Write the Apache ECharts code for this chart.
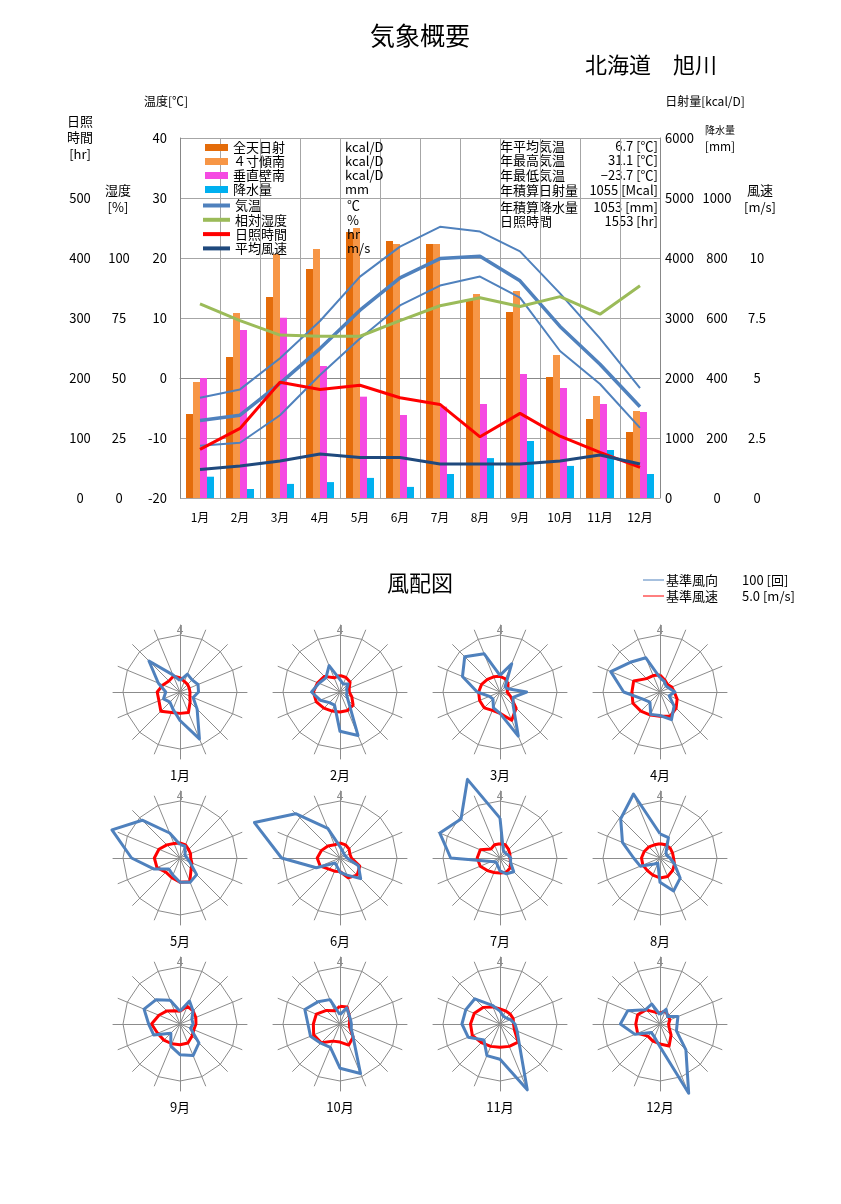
<!DOCTYPE html>
<html><head><meta charset="utf-8">
<script src="https://cdn.jsdelivr.net/npm/echarts@6/dist/echarts.min.js"></script>
<style>html,body{margin:0;padding:0;background:#fff}#c{width:841px;height:1204px}</style>
</head><body><div id="c"></div>
<script>
const FONT = '"Noto Sans CJK JP","Noto Sans",sans-serif';
const months = ['1月','2月','3月','4月','5月','6月','7月','8月','9月','10月','11月','12月'];
const radAll  = [1400,2350,3350,3817,4433,4283,4233,3317,3100,2017,1317,1100];
const radTilt = [1933,3083,4067,4150,4500,4233,4233,3400,3450,2383,1700,1450];
const radWall = [2000,2800,3005,2200,1689,1383,1522,1567,2067,1833,1567,1433];
const precip  = [71,30,47,53,67,37,80,133,190,107,160,80];
const tempMax  = [-3.3,-1.9,3.3,9.5,16.9,21.9,25.2,24.4,21.1,14.1,6.6,-1.7];
const tempMean = [-7.1,-6.2,-0.9,4.9,11.3,16.7,19.9,20.3,16.2,8.6,2.3,-4.8];
const tempMin  = [-11.3,-10.8,-6.2,0.5,6.6,12.1,15.4,16.9,13.4,4.5,-1.0,-8.3];
const humidity = [80.9,73.9,67.9,67.4,67.4,73.9,80.1,83.4,79.8,83.9,76.6,88.4];
const sunshine = [81,116,193,181,188,167,156,102,141,103,76,51];
const windSpeed = [1.19,1.33,1.54,1.83,1.69,1.69,1.42,1.42,1.42,1.54,1.79,1.42];

const statLabels = ['年平均気温','年最高気温','年最低気温','年積算日射量','年積算降水量','日照時間'];
const statValues = ['6.7 [℃]','31.1 [℃]','−23.7 [℃]','1055 [Mcal]','1053 [mm]','1553 [hr]'];

const legendNames = ['全天日射','４寸傾南','垂直壁南','降水量','気温','相対湿度','日照時間','平均風速'];
const legendUnits = ['kcal/D','kcal/D','kcal/D','mm','℃','%','hr','m/s'];

// wind roses: 16 directions, N then clockwise (N,NNE,NE,...,NNW)
const windFreq = [
 [0.8,1.36,1.2,1.37,1.3,1.0,1.7,3.56,2.0,1.3,1.0,1.25,1.0,1.65,3.08,1.3],
 [0.87,0.6,0.8,0.5,0.5,0.5,0.8,3.3,2.76,1.0,1.05,1.5,2.0,1.6,1.4,2.0],
 [1.17,2.15,0.5,0.6,1.87,1.0,1.3,3.35,1.5,1.2,0.7,0.8,1.6,2.85,3.5,2.9],
 [1.0,0.8,0.6,0.7,1.05,0.7,1.4,2.1,1.65,1.7,1.0,1.3,2.55,3.74,2.95,2.6],
 [0.95,0.9,0.5,0.4,0.5,0.75,1.65,1.85,1.7,1.3,1.1,2.0,3.4,5.17,3.75,1.9],
 [0.8,0.5,0.4,0.4,0.5,1.4,2.05,1.3,1.0,0.6,0.5,1.8,4.1,6.5,4.4,2.25],
 [2.8,0.6,0.5,0.6,0.75,0.8,1.36,1.2,0.9,0.5,0.4,0.65,3.46,4.57,3.87,5.97],
 [1.7,1.55,0.6,0.5,0.7,1.1,2.0,2.5,1.7,0.4,0.6,1.5,1.85,2.85,3.9,4.86],
 [0.9,1.74,1.3,0.9,0.92,0.8,1.88,2.4,2.15,1.68,0.91,2.0,2.2,2.73,2.4,1.8],
 [0.65,1.23,0.9,0.8,0.8,0.85,1.3,3.76,3.1,1.77,1.9,2.24,2.25,2.67,2.2,1.85],
 [0.9,0.6,0.6,0.8,1.05,1.3,1.9,5.0,2.47,2.4,1.59,2.42,2.67,2.6,2.5,1.42],
 [0.65,1.12,0.75,1.36,1.2,1.25,2.57,5.26,1.6,1.0,0.85,1.9,2.78,2.45,1.42,1.52]
];
const windSpd = [
 [1.0,0.8,0.75,0.7,0.7,0.75,1.0,1.55,1.5,1.55,1.9,1.6,1.6,1.3,1.1,1.2],
 [1.17,1.1,1.0,0.7,0.65,0.9,1.3,1.4,1.4,1.45,1.6,1.8,1.87,1.7,1.55,1.08],
 [1.1,1.0,0.8,0.6,0.5,0.8,1.6,2.15,1.5,1.4,1.57,1.55,1.5,1.4,1.25,1.15],
 [1.2,0.9,0.75,0.9,1.0,1.3,1.6,1.85,1.7,1.75,1.9,2.06,1.97,2.0,1.33,1.25],
 [1.05,1.0,0.85,0.8,0.75,0.9,1.1,1.8,1.7,1.5,1.4,1.75,1.8,1.6,1.3,1.1],
 [1.05,1.0,0.9,0.75,0.8,1.5,1.7,1.5,0.95,1.0,1.1,1.5,1.6,1.4,1.2,1.0],
 [1.0,1.0,0.85,0.75,0.7,0.8,1.0,1.1,1.05,1.1,1.25,1.5,1.6,1.5,0.9,1.0],
 [1.0,1.0,1.0,0.95,0.95,1.1,1.25,1.4,1.4,1.3,1.25,1.3,1.3,1.2,1.1,1.0],
 [0.9,1.34,1.3,1.2,1.12,1.05,1.2,1.45,1.45,1.5,1.6,1.7,2.0,1.6,1.3,1.0],
 [1.25,1.3,0.9,0.75,0.65,0.75,1.3,1.6,1.27,1.3,1.86,2.0,1.87,1.8,1.35,1.0],
 [1.05,1.0,1.0,1.0,0.95,1.1,1.8,1.7,1.63,1.7,1.85,2.1,2.07,1.95,1.65,1.3],
 [0.77,1.0,0.8,0.75,0.6,0.7,1.1,1.67,1.4,1.3,1.2,1.7,1.7,1.7,1.4,0.9]
];

const C_RAD='#E46C0A', C_TILT='#F79646', C_WALL='#F54AE2', C_PRE='#00B0F0';
const C_TEMP='#4F81BD', C_HUM='#9BBB59', C_SUN='#FF0000', C_WIND='#1F497D';
const GRID='#a6a6a6', AX='#888';

function hideAbove(lim){ return v => (v > lim ? '' : String(v)); }
// radar indicators run counter-clockwise; reorder to clockwise compass
function toRadar(arr){ return arr.map((_, i) => arr[(16 - i) % 16]); }

const yAxes = [
 {type:'value', gridIndex:0, position:'left', min:-20, max:40, interval:10,
  axisLine:{show:true,lineStyle:{color:AX}}, axisTick:{show:false},
  splitLine:{show:true,lineStyle:{color:GRID}},
  axisLabel:{color:'#000',fontSize:13,margin:13}},
 {type:'value', gridIndex:0, position:'left', min:0, max:150, interval:25,
  axisLine:{show:false}, axisTick:{show:false}, splitLine:{show:false},
  axisLabel:{color:'#000',fontSize:13,margin:61,align:'center',formatter:hideAbove(100)}},
 {type:'value', gridIndex:0, position:'left', min:0, max:600, interval:100,
  axisLine:{show:false}, axisTick:{show:false}, splitLine:{show:false},
  axisLabel:{color:'#000',fontSize:13,margin:100,align:'center',formatter:hideAbove(500)}},
 {type:'value', gridIndex:0, position:'right', min:0, max:6000, interval:1000,
  axisLine:{show:true,lineStyle:{color:AX}}, axisTick:{show:false}, splitLine:{show:false},
  axisLabel:{color:'#000',fontSize:13,margin:5,formatter:v=>String(v)}},
 {type:'value', gridIndex:0, position:'right', min:0, max:1200, interval:200,
  axisLine:{show:false}, axisTick:{show:false}, splitLine:{show:false},
  axisLabel:{color:'#000',fontSize:13,margin:57,align:'center',formatter:hideAbove(1000)}},
 {type:'value', gridIndex:0, position:'right', min:0, max:15, interval:2.5,
  axisLine:{show:false}, axisTick:{show:false}, splitLine:{show:false},
  axisLabel:{color:'#000',fontSize:13,margin:97,align:'center',formatter:hideAbove(10)}}
];

const series = [
 {name:'全天日射', type:'bar', yAxisIndex:3, data:radAll, itemStyle:{color:C_RAD}, barGap:'0%', barCategoryGap:'30%'},
 {name:'４寸傾南', type:'bar', yAxisIndex:3, data:radTilt, itemStyle:{color:C_TILT}, barGap:'0%', barCategoryGap:'30%'},
 {name:'垂直壁南', type:'bar', yAxisIndex:3, data:radWall, itemStyle:{color:C_WALL}, barGap:'0%', barCategoryGap:'30%'},
 {name:'降水量', type:'bar', yAxisIndex:4, data:precip, itemStyle:{color:C_PRE}, barGap:'0%', barCategoryGap:'30%'},
 {name:'気温', type:'line', yAxisIndex:0, data:tempMax, symbol:'none', itemStyle:{color:C_TEMP}, lineStyle:{color:C_TEMP,width:2}},
 {name:'気温', type:'line', yAxisIndex:0, data:tempMean, symbol:'none', itemStyle:{color:C_TEMP}, lineStyle:{color:C_TEMP,width:3.5}},
 {name:'気温', type:'line', yAxisIndex:0, data:tempMin, symbol:'none', itemStyle:{color:C_TEMP}, lineStyle:{color:C_TEMP,width:2}},
 {name:'相対湿度', type:'line', yAxisIndex:1, data:humidity, symbol:'none', itemStyle:{color:C_HUM}, lineStyle:{color:C_HUM,width:3}},
 {name:'日照時間', type:'line', yAxisIndex:2, data:sunshine, symbol:'none', itemStyle:{color:C_SUN}, lineStyle:{color:C_SUN,width:3}},
 {name:'平均風速', type:'line', yAxisIndex:5, data:windSpeed, symbol:'none', itemStyle:{color:C_WIND}, lineStyle:{color:C_WIND,width:3}}
];

// wind roses
const centersX = [180,340,500,660];
const centersY = [692,858,1024];
const radars = [];
const graphics = [];
function txt(x,y,text,size,align,extra){
  graphics.push(Object.assign({type:'text', x:x, y:y, silent:true,
    style:{text:text, fill:'#000', fontSize:size, fontFamily:FONT, align:align||'left', verticalAlign:'middle'}}, extra||{}));
}
for (let m=0;m<12;m++){
  const cx = centersX[m%4], cy = centersY[Math.floor(m/4)];
  radars.push({center:[cx,cy], radius:67, shape:'polygon', startAngle:90, splitNumber:1,
    indicator: Array.from({length:16},()=>({name:'',max:1})),
    axisName:{show:false}, splitLine:{show:false}, splitArea:{show:false},
    axisLine:{show:true,lineStyle:{color:'#8c8c8c',width:1}}, axisTick:{show:false}, axisLabel:{show:false}});
  radars.push({center:[cx,cy], radius:57, shape:'polygon', startAngle:90, splitNumber:1, nameGap:0,
    indicator: Array.from({length:16},(_,i)=>({name:i===0?'4':'',max:4})),
    axisName:{show:true,color:'#8c8c8c',fontSize:12,fontFamily:FONT},
    splitLine:{show:true,lineStyle:{color:'#8c8c8c',width:1}}, splitArea:{show:false},
    axisLine:{show:false}, axisTick:{show:false}, axisLabel:{show:false}});
  series.push({type:'radar', radarIndex:m*2+1, symbol:'none', silent:true,
    data:[
      {value:toRadar(windSpd[m]), lineStyle:{color:'#FF0000',width:3}, itemStyle:{color:'#FF0000'}},
      {value:toRadar(windFreq[m]), lineStyle:{color:'#4F81BD',width:3}, itemStyle:{color:'#4F81BD'}}
    ]});
  txt(cx, cy+83, months[m], 13, 'center');
}

// titles and axis names
txt(420, 35, '気象概要', 25, 'center');
txt(651, 65, '北海道　旭川', 22, 'center');
txt(166, 101, '温度[℃]', 12, 'center');
txt(80, 121, '日照', 13, 'center');
txt(80, 137, '時間', 13, 'center');
txt(80, 154, '[hr]', 13, 'center');
txt(118, 190, '湿度', 13, 'center');
txt(118, 207, '[%]', 13, 'center');
txt(705, 101, '日射量[kcal/D]', 12, 'center');
txt(720, 130, '降水量', 10, 'center');
txt(720, 146, '[mm]', 12, 'center');
txt(760, 190, '風速', 13, 'center');
txt(760, 207, '[m/s]', 13, 'center');
// stats
const statY = [146,160,175,190,207,221];
for (let i=0;i<statLabels.length;i++){
  txt(500, statY[i], statLabels[i], 13, 'left');
  txt(658, statY[i], statValues[i], 13, 'right');
}
// wind rose title and legend
txt(420, 583, '風配図', 22, 'center');
graphics.push({type:'line', silent:true, shape:{x1:643,y1:580,x2:664,y2:580}, style:{stroke:'#4F81BD',lineWidth:1}});
graphics.push({type:'line', silent:true, shape:{x1:643,y1:596,x2:664,y2:596}, style:{stroke:'#FF0000',lineWidth:1}});
txt(666, 580, '基準風向', 13, 'left');
txt(742, 580, '100 [回]', 13, 'left');
txt(666, 596, '基準風速', 13, 'left');
txt(742, 596, '5.0 [m/s]', 13, 'left');

const unitOf = {}; legendNames.forEach((n,i)=>unitOf[n]=legendUnits[i]);
const legendText = {color:'#000', rich:{n:{width:112,fontSize:13,fontFamily:FONT,lineHeight:14}, u:{fontSize:13,fontFamily:FONT,lineHeight:14}}};
const fmt = name => '{n|' + name + '}{u|' + unitOf[name] + '}';

const option = {
  animation:false,
  backgroundColor:'#fff',
  textStyle:{fontFamily:FONT},
  grid:[{left:180, top:138, width:480, height:360}],
  xAxis:[{type:'category', gridIndex:0, data:months, boundaryGap:true,
    axisLine:{show:true,lineStyle:{color:AX}}, axisTick:{show:false},
    splitLine:{show:true,interval:0,lineStyle:{color:GRID}},
    axisLabel:{color:'#000',fontSize:12,margin:13,interval:0}}],
  yAxis:yAxes,
  legend:[
    {left:205, top:141, orient:'vertical', selectedMode:false, itemGap:0, itemWidth:23, itemHeight:7,
     icon:'rect', data:legendNames.slice(0,4), formatter:fmt, textStyle:legendText, padding:0},
    {left:203, top:199, orient:'vertical', selectedMode:false, itemGap:0, itemWidth:27, itemHeight:4,
     icon:'rect', data:legendNames.slice(4), formatter:fmt, textStyle:legendText, padding:0}
  ],
  radar:radars,
  series:series,
  graphic:graphics
};
// fine-tune legend row spacing to the reference (about 14px per row)
option.legend[0].itemGap = 1;
option.legend[1].itemGap = 1.3;
const chart = echarts.init(document.getElementById('c'), null, {renderer:'canvas'});
chart.setOption(option);
</script></body></html>
